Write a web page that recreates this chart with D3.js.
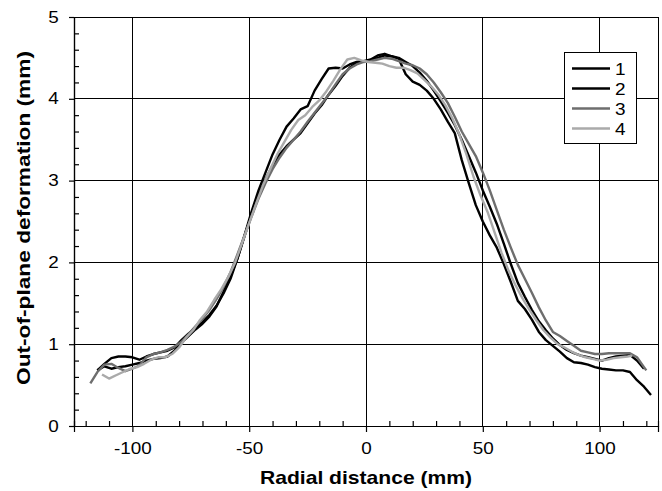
<!DOCTYPE html>
<html><head><meta charset="utf-8">
<script src="https://cdn.jsdelivr.net/npm/d3@7"></script>
<style>body{margin:0;background:#fff}svg{display:block}</style>
</head><body>
<script>
const seriesNames = ["1","2","3","4"];
const seriesColors = ["#000000","#000000","#6e6e6e","#aaaaaa"];
const xTicks = [-100,-50,0,50,100];
const yTicks = [0,1,2,3,4,5];
const series1 = [[-115,0.68],[-112,0.76],[-109,0.83],[-106,0.85],[-103,0.85],[-100,0.84],[-97,0.81],[-94,0.85],[-91,0.88],[-88,0.90],[-85,0.92],[-82,0.96],[-79,1.05],[-76,1.13],[-73,1.20],[-70,1.27],[-67,1.36],[-64,1.47],[-61,1.62],[-58,1.80],[-55,2.05],[-52,2.33],[-49,2.62],[-46,2.88],[-43,3.10],[-40,3.32],[-37,3.50],[-34,3.66],[-31,3.76],[-28,3.87],[-25,3.91],[-22,4.10],[-19,4.24],[-16,4.37],[-13,4.38],[-10,4.37],[-7,4.42],[-4,4.45],[-1,4.46],[2,4.48],[5,4.53],[8,4.55],[11,4.52],[14,4.49],[17,4.30],[20,4.21],[23,4.17],[26,4.10],[29,4.00],[32,3.87],[35,3.72],[38,3.58],[41,3.25],[44,2.97],[47,2.70],[50,2.50],[53,2.33],[56,2.18],[59,1.98],[62,1.76],[65,1.53],[68,1.43],[71,1.30],[74,1.15],[77,1.05],[80,0.98],[83,0.91],[86,0.83],[89,0.78],[92,0.77],[95,0.75],[98,0.72],[101,0.70],[104,0.69],[107,0.68],[110,0.68],[113,0.66],[116,0.56],[119,0.48],[122,0.38]];
const series2 = [[-115,0.68],[-112,0.73],[-109,0.70],[-106,0.72],[-103,0.73],[-100,0.75],[-97,0.77],[-94,0.80],[-91,0.82],[-88,0.83],[-85,0.85],[-82,0.92],[-79,1.02],[-76,1.10],[-73,1.18],[-70,1.25],[-67,1.34],[-64,1.46],[-61,1.64],[-58,1.83],[-55,2.05],[-52,2.32],[-49,2.58],[-46,2.82],[-43,3.02],[-40,3.18],[-37,3.32],[-34,3.42],[-31,3.50],[-28,3.58],[-25,3.70],[-22,3.82],[-19,3.92],[-16,4.05],[-13,4.16],[-10,4.28],[-7,4.38],[-4,4.44],[-1,4.46],[2,4.46],[5,4.50],[8,4.53],[11,4.52],[14,4.50],[17,4.45],[20,4.40],[23,4.32],[26,4.22],[29,4.10],[32,3.97],[35,3.83],[38,3.68],[41,3.50],[44,3.30],[47,3.10],[50,2.88],[53,2.68],[56,2.47],[59,2.23],[62,1.98],[65,1.75],[68,1.58],[71,1.42],[74,1.28],[77,1.17],[80,1.07],[83,0.99],[86,0.93],[89,0.89],[92,0.86],[95,0.84],[98,0.82],[101,0.80],[104,0.83],[107,0.85],[110,0.86],[113,0.87],[116,0.80],[119,0.70]];
const series3 = [[-118,0.52],[-115,0.66],[-112,0.75],[-109,0.76],[-106,0.71],[-103,0.67],[-100,0.70],[-97,0.74],[-94,0.84],[-91,0.88],[-88,0.90],[-85,0.93],[-82,0.97],[-79,1.03],[-76,1.12],[-73,1.22],[-70,1.31],[-67,1.42],[-64,1.55],[-61,1.70],[-58,1.88],[-55,2.10],[-52,2.33],[-49,2.56],[-46,2.78],[-43,2.97],[-40,3.14],[-37,3.28],[-34,3.40],[-31,3.50],[-28,3.60],[-25,3.72],[-22,3.83],[-19,3.94],[-16,4.05],[-13,4.18],[-10,4.30],[-7,4.37],[-4,4.42],[-1,4.45],[2,4.46],[5,4.48],[8,4.50],[11,4.49],[14,4.46],[17,4.43],[20,4.41],[23,4.37],[26,4.30],[29,4.20],[32,4.08],[35,3.95],[38,3.78],[41,3.60],[44,3.45],[47,3.30],[50,3.10],[53,2.88],[56,2.64],[59,2.40],[62,2.18],[65,1.97],[68,1.80],[71,1.63],[74,1.45],[77,1.29],[80,1.15],[83,1.10],[86,1.04],[89,0.98],[92,0.92],[95,0.90],[98,0.88],[101,0.88],[104,0.89],[107,0.89],[110,0.89],[113,0.89],[116,0.84],[119,0.72],[120,0.68]];
const series4 = [[-113,0.63],[-110,0.58],[-107,0.62],[-104,0.66],[-101,0.70],[-98,0.72],[-95,0.76],[-92,0.81],[-89,0.84],[-86,0.84],[-83,0.88],[-80,0.96],[-77,1.08],[-74,1.17],[-71,1.30],[-68,1.40],[-65,1.54],[-62,1.67],[-59,1.82],[-56,2.00],[-53,2.24],[-50,2.48],[-47,2.72],[-44,2.95],[-41,3.14],[-38,3.32],[-35,3.47],[-32,3.62],[-29,3.74],[-26,3.80],[-23,3.90],[-20,3.98],[-17,4.09],[-14,4.22],[-11,4.36],[-8,4.48],[-5,4.50],[-2,4.47],[1,4.45],[4,4.44],[7,4.43],[10,4.40],[13,4.38],[16,4.38],[19,4.35],[22,4.31],[25,4.23],[28,4.15],[31,4.05],[34,3.92],[37,3.76],[40,3.56],[43,3.32],[46,3.05],[49,2.82],[52,2.62],[55,2.37],[58,2.12],[61,1.90],[64,1.72],[67,1.56],[70,1.42],[73,1.29],[76,1.17],[79,1.08],[82,1.00],[85,0.96],[88,0.91],[91,0.87],[94,0.84],[97,0.82],[100,0.80],[103,0.81],[106,0.83],[109,0.84],[112,0.85],[114,0.86]];
const allSeries = [series1, series2, series3, series4];

const W = 662, H = 491;
const margin = {left: 74, top: 17, right: 4, bottom: 65};
const svg = d3.select("body").append("svg").attr("width", W).attr("height", H);
const x = d3.scaleLinear().domain([-125,125]).range([margin.left, W - margin.right]);
const y = d3.scaleLinear().domain([0,5]).range([H - margin.bottom, margin.top]);
const font = "Arial, 'Liberation Sans', sans-serif";

// grid
const g = svg.append("g").attr("shape-rendering","crispEdges");
g.selectAll(".vg").data(xTicks).enter().append("line")
  .attr("x1", d=>x(d)).attr("x2", d=>x(d)).attr("y1", y(0)).attr("y2", y(5))
  .attr("stroke","#000").attr("stroke-width",1);
g.selectAll(".hg").data(yTicks).enter().append("line")
  .attr("x1", x(-125)).attr("x2", x(125)).attr("y1", d=>y(d)).attr("y2", d=>y(d))
  .attr("stroke","#000").attr("stroke-width",1);
g.append("line").attr("x1", x(125)).attr("x2", x(125)).attr("y1", y(0)).attr("y2", y(5)).attr("stroke","#000");

// axes
const fmt = d => String(d);
const xAxis = svg.append("g").attr("transform", `translate(0,${y(0)})`)
  .call(d3.axisBottom(x).tickValues(xTicks).tickSize(6).tickPadding(11).tickFormat(fmt));
const xMinor = svg.append("g").attr("transform", `translate(0,${y(0)})`)
  .call(d3.axisTop(x).tickValues(d3.range(-120,121,10).filter(v=>v%50!==0)).tickSize(5).tickFormat(""));
const yAxis = svg.append("g").attr("transform", `translate(${x(-125)},0)`)
  .call(d3.axisLeft(y).tickValues(yTicks).tickSize(5).tickPadding(8).tickFormat(fmt));
const yMinor = svg.append("g").attr("transform", `translate(${x(-125)},0)`)
  .call(d3.axisRight(y).tickValues(d3.range(0.2,5,0.2).filter(v=>Math.abs(v-Math.round(v))>0.01)).tickSize(5).tickFormat(""));
[xAxis,xMinor,yAxis,yMinor].forEach(a=>{
  a.selectAll(".domain").attr("stroke","#000").attr("stroke-width",1.2);
  a.selectAll("line").attr("stroke","#000").attr("stroke-width",1.2);
  a.selectAll("text").attr("font-family",font).attr("font-size","16px").attr("fill","#000")
    .attr("transform","scale(1.18,1)");
});

// lines
const line = d3.line().x(d=>x(d[0])).y(d=>y(d[1]));
allSeries.forEach((s,i)=>{
  svg.append("path").datum(s).attr("d", line).attr("fill","none")
    .attr("stroke", seriesColors[i]).attr("stroke-width", 2.4).attr("stroke-linejoin","round");
});

// legend
const lg = svg.append("g");
lg.append("rect").attr("x",564).attr("y",52).attr("width",72).attr("height",91)
  .attr("fill","#fff").attr("stroke","#000").attr("stroke-width",1).attr("shape-rendering","crispEdges");
seriesNames.forEach((n,i)=>{
  const yy = 68.5 + i*20;
  lg.append("line").attr("x1",572).attr("x2",610).attr("y1",yy).attr("y2",yy)
    .attr("stroke",seriesColors[i]).attr("stroke-width",2.6);
  lg.append("text").attr("transform",`translate(615,${yy+6}) scale(1.15,1)`).text(n)
    .attr("font-family",font).attr("font-size","16.5px");
});

// titles
svg.append("text").attr("x", x(0)).attr("y", 484).attr("text-anchor","middle")
  .attr("font-family",font).attr("font-weight","bold").attr("font-size","18.5px")
  .attr("textLength",212).attr("lengthAdjust","spacingAndGlyphs").text("Radial distance (mm)");
svg.append("text").attr("transform", `translate(30,218) rotate(-90)`).attr("text-anchor","middle")
  .attr("font-family",font).attr("font-weight","bold").attr("font-size","19px")
  .attr("textLength",334).attr("lengthAdjust","spacingAndGlyphs").text("Out-of-plane deformation (mm)");
</script>
</body></html>
